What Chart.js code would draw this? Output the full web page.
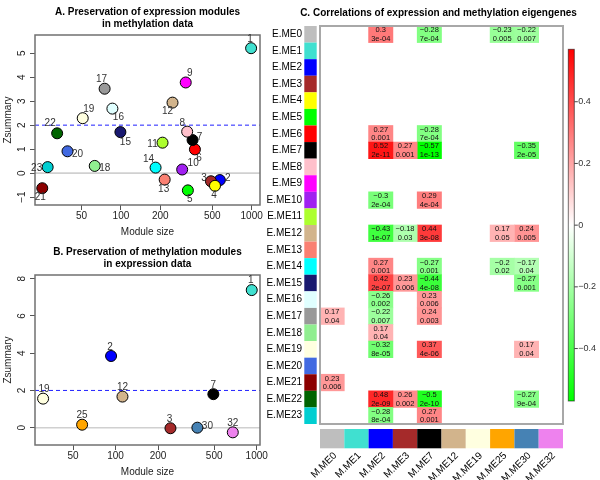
<!DOCTYPE html>
<html>
<head>
<meta charset="utf-8">
<script src="https://cdn.jsdelivr.net/npm/chart.js@4.4.1/dist/chart.umd.min.js"></script>
<style>
  body { margin: 0; background: #fff; }
  #wrap { position: relative; width: 600px; height: 480px; overflow: hidden; }
  canvas { position: absolute; }
</style>
</head>
<body>
<div id="wrap">
  <canvas id="chartA" width="290" height="240" style="left:0;top:0"></canvas>
  <canvas id="chartB" width="290" height="240" style="left:0;top:240px"></canvas>
  <canvas id="chartC" width="350" height="480" style="left:250px;top:0"></canvas>
</div>
<script>
Chart.defaults.font.family = "'Liberation Sans', Arial, Helvetica, sans-serif";
Chart.defaults.color = "#000";
Chart.defaults.animation = false;

const wgcna = {
  grey: "#BEBEBE", turquoise: "#40E0D0", blue: "#0000FF", brown: "#A52A2A",
  yellow: "#FFFF00", green: "#00FF00", red: "#FF0000", black: "#000000",
  pink: "#FFC0CB", magenta: "#FF00FF", purple: "#A020F0", greenyellow: "#ADFF2F",
  tan: "#D2B48C", salmon: "#FA8072", cyan: "#00FFFF", midnightblue: "#191970",
  lightcyan: "#E0FFFF", grey60: "#999999", lightgreen: "#90EE90",
  lightyellow: "#FFFFE0", royalblue: "#4169E1", darkred: "#8B0000",
  darkgreen: "#006400", darkturquoise: "#00CED1", orange: "#FFA500",
  steelblue: "#4682B4", violet: "#EE82EE"
};

// --- Panel A: expression modules in methylation data
const aModules = [1, 2, 3, 4, 5, 6, 7, 8, 9, 10, 11, 12, 13, 14, 15, 16, 17, 18, 19, 20, 21, 22, 23];
const aSizes = [990, 571, 488, 524, 325, 368, 353, 321, 313, 294, 208, 248, 216, 184, 99, 86, 75, 63, 51, 39, 25, 32.5, 27.5];
const aZsummary = [5.21, -0.29, -0.34, -0.53, -0.72, 0.99, 1.38, 1.73, 3.78, 0.15, 1.27, 2.94, -0.27, 0.23, 1.71, 2.69, 3.52, 0.30, 2.29, 0.91, -0.63, 1.66, 0.25];
const aColors = ["turquoise", "blue", "brown", "yellow", "green", "red", "black", "pink", "magenta", "purple",
  "greenyellow", "tan", "salmon", "cyan", "midnightblue", "lightcyan", "grey60", "lightgreen",
  "lightyellow", "royalblue", "darkred", "darkgreen", "darkturquoise"];
const aLabelOffsets = [[-1, -9], [8, -2], [-7, -3], [-1, 9], [2, 9], [4, 9], [7, -3], [-5, -8], [4, -9], [11, -6],
  [-10, 2], [-5, 9], [-1, 10], [-7, -8], [5, 10], [6, 9], [-3, -9], [10, 2], [6, -9], [10, 3],
  [-2, 9], [-7, -10], [-11, 1]];

// --- Panel B: methylation modules in expression data
const bModules = [1, 2, 3, 7, 12, 19, 25, 30, 32];
const bSizes = [922, 93, 245, 493, 112, 30.7, 58, 380, 677];
const bZsummary = [7.39, 3.85, -0.03, 1.80, 1.67, 1.56, 0.16, 0.0, -0.25];
const bColors = ["turquoise", "blue", "brown", "black", "tan", "lightyellow", "orange", "steelblue", "violet"];
const bLabelOffsets = [[-1, -10], [-1, -9], [-1, -9], [0, -9], [0, -9], [1, -9], [0, -9], [10, -1], [0, -9]];

const sizeTicks = [50, 100, 200, 500, 1000];

// --- Panel C: eigengene correlations
const eModules = ["E.ME0", "E.ME1", "E.ME2", "E.ME3", "E.ME4", "E.ME5", "E.ME6", "E.ME7", "E.ME8", "E.ME9",
  "E.ME10", "E.ME11", "E.ME12", "E.ME13", "E.ME14", "E.ME15", "E.ME16", "E.ME17", "E.ME18", "E.ME19",
  "E.ME20", "E.ME21", "E.ME22", "E.ME23"];
const eColors = ["grey"].concat(aColors);
const mModules = ["M.ME0", "M.ME1", "M.ME2", "M.ME3", "M.ME7", "M.ME12", "M.ME19", "M.ME25", "M.ME30", "M.ME32"];
const mColors = ["grey", "turquoise", "blue", "brown", "black", "tan", "lightyellow", "orange", "steelblue", "violet"];
const corrCells = [
  ["E.ME0", "M.ME2", 0.3, "3e-04"], ["E.ME0", "M.ME7", -0.28, "7e-04"],
  ["E.ME0", "M.ME25", -0.23, "0.005"], ["E.ME0", "M.ME30", -0.22, "0.007"],
  ["E.ME6", "M.ME2", 0.27, "0.001"], ["E.ME6", "M.ME7", -0.28, "7e-04"],
  ["E.ME7", "M.ME2", 0.52, "2e-11"], ["E.ME7", "M.ME3", 0.27, "0.001"],
  ["E.ME7", "M.ME7", -0.57, "1e-13"], ["E.ME7", "M.ME30", -0.35, "2e-05"],
  ["E.ME10", "M.ME2", -0.3, "2e-04"], ["E.ME10", "M.ME7", 0.29, "4e-04"],
  ["E.ME12", "M.ME2", -0.43, "1e-07"], ["E.ME12", "M.ME3", -0.18, "0.03"],
  ["E.ME12", "M.ME7", 0.44, "3e-08"], ["E.ME12", "M.ME25", 0.17, "0.05"],
  ["E.ME12", "M.ME30", 0.24, "0.005"],
  ["E.ME14", "M.ME2", 0.27, "0.001"], ["E.ME14", "M.ME7", -0.27, "0.001"],
  ["E.ME14", "M.ME25", -0.2, "0.02"], ["E.ME14", "M.ME30", -0.17, "0.04"],
  ["E.ME15", "M.ME2", 0.42, "2e-07"], ["E.ME15", "M.ME3", 0.23, "0.006"],
  ["E.ME15", "M.ME7", -0.44, "4e-08"], ["E.ME15", "M.ME30", -0.27, "0.001"],
  ["E.ME16", "M.ME2", -0.26, "0.002"], ["E.ME16", "M.ME7", 0.23, "0.006"],
  ["E.ME17", "M.ME0", 0.17, "0.04"], ["E.ME17", "M.ME2", -0.22, "0.007"],
  ["E.ME17", "M.ME7", 0.24, "0.003"],
  ["E.ME18", "M.ME2", 0.17, "0.04"],
  ["E.ME19", "M.ME2", -0.32, "8e-05"], ["E.ME19", "M.ME7", 0.37, "4e-06"],
  ["E.ME19", "M.ME30", 0.17, "0.04"],
  ["E.ME21", "M.ME0", 0.23, "0.006"],
  ["E.ME22", "M.ME2", 0.48, "2e-09"], ["E.ME22", "M.ME3", 0.26, "0.002"],
  ["E.ME22", "M.ME7", -0.5, "2e-10"], ["E.ME22", "M.ME30", -0.27, "9e-04"],
  ["E.ME23", "M.ME2", -0.28, "8e-04"], ["E.ME23", "M.ME7", 0.27, "0.001"]
];
const corrLimit = 0.57;
const colorbarTicks = [0.4, 0.2, 0, -0.2, -0.4];

function fmtNum(v) {
  return String(v).replace("-", "\u2212");
}

function corrColor(r) {
  const t = Math.min(1, Math.abs(r) / corrLimit);
  const c = Math.round(255 * (1 - t));
  return r >= 0 ? `rgb(255,${c},${c})` : `rgb(${c},255,${c})`;
}

// lines at 0 and 2, box, title, rotated y labels and point numbers
const scatterDeco = {
  id: "scatterDeco",
  beforeDatasetsDraw(chart) {
    const { ctx, chartArea: a, scales: { y } } = chart;
    ctx.save();
    ctx.beginPath();
    ctx.rect(a.left, a.top, a.right - a.left, a.bottom - a.top);
    ctx.clip();
    let py = y.getPixelForValue(0);
    ctx.strokeStyle = "#d0d0d0";
    ctx.lineWidth = 1.6;
    ctx.beginPath(); ctx.moveTo(a.left, py); ctx.lineTo(a.right, py); ctx.stroke();
    py = y.getPixelForValue(2);
    ctx.strokeStyle = "#2020ff";
    ctx.lineWidth = 1;
    ctx.setLineDash([4, 3]);
    ctx.beginPath(); ctx.moveTo(a.left, py); ctx.lineTo(a.right, py); ctx.stroke();
    ctx.restore();
  },
  afterDraw(chart, args, opts) {
    const { ctx, chartArea: a, scales: { y } } = chart;
    ctx.save();
    ctx.strokeStyle = "#707070";
    ctx.lineWidth = 1.5;
    ctx.strokeRect(a.left, a.top, a.right - a.left, a.bottom - a.top);

    ctx.textAlign = "center";
    ctx.textBaseline = "middle";
    ctx.fillStyle = "#000";
    ctx.font = "bold 10px 'Liberation Sans', Arial, sans-serif";
    const cx = (a.left + a.right) / 2;
    ctx.fillText(opts.title[0], cx, 12);
    ctx.fillText(opts.title[1], cx, 24);

    ctx.fillStyle = "#222";
    ctx.font = "10px 'Liberation Sans', Arial, sans-serif";
    y.ticks.forEach(t => {
      ctx.save();
      ctx.translate(22, y.getPixelForValue(t.value));
      ctx.rotate(-Math.PI / 2);
      ctx.fillText(fmtNum(t.value), 0, 0);
      ctx.restore();
    });

    ctx.fillStyle = "#333";
    const meta = chart.getDatasetMeta(0);
    meta.data.forEach((pt, i) => {
      const off = opts.offsets[i];
      ctx.fillText(String(opts.labels[i]), pt.x + off[0], pt.y + off[1]);
    });
    ctx.restore();
  }
};

function makeScatter(id, title, modules, sizes, zs, colors, offsets, xMin, xMax, yMin, yMax, yTicks) {
  return new Chart(document.getElementById(id), {
    type: "scatter",
    data: {
      datasets: [{
        data: sizes.map((s, i) => ({ x: s, y: zs[i] })),
        backgroundColor: colors.map(c => wgcna[c]),
        borderColor: "#000",
        borderWidth: 1,
        pointRadius: 5.5
      }]
    },
    options: {
      responsive: false,
      layout: { padding: { left: 0, right: 30, top: 35, bottom: 0 } },
      plugins: {
        legend: { display: false },
        tooltip: { enabled: false },
        title: { display: false },
        scatterDeco: { labels: modules, offsets: offsets, title: title }
      },
      scales: {
        x: {
          type: "logarithmic",
          min: xMin,
          max: xMax,
          afterBuildTicks: s => { s.ticks = sizeTicks.map(v => ({ value: v })); },
          afterFit: s => { s.height = 35; },
          ticks: { autoSkip: false, maxRotation: 0, padding: 0, color: "#222", font: { size: 10 },
            callback: v => String(v) },
          grid: { drawOnChartArea: false, drawTicks: true, tickLength: 5, color: "#555" },
          border: { display: false },
          title: { display: true, text: "Module size", font: { size: 10 }, color: "#222",
            padding: { top: 0, bottom: 2 } }
        },
        y: {
          min: yMin,
          max: yMax,
          afterBuildTicks: s => { s.ticks = yTicks.map(v => ({ value: v })); },
          afterFit: s => { s.width = 35; },
          ticks: { display: false },
          grid: { drawOnChartArea: false, drawTicks: true, tickLength: 5, color: "#555" },
          border: { display: false },
          title: { display: true, text: "Zsummary", font: { size: 10 }, color: "#222",
            padding: { top: 2, bottom: 0 } }
        }
      }
    },
    plugins: [scatterDeco]
  });
}

makeScatter("chartA", ["A. Preservation of expression modules", "in methylation data"],
  aModules, aSizes, aZsummary, aColors, aLabelOffsets, 22, 1158, -1.33, 5.76, [-1, 0, 1, 2, 3, 4, 5]);

makeScatter("chartB", ["B. Preservation of methylation modules", "in expression data"],
  bModules, bSizes, bZsummary, bColors, bLabelOffsets, 26.9, 1055, -0.93, 8.2, [0, 2, 4, 6, 8]);

// heatmap: one floating-bar dataset per methylation module
function findCell(e, m) {
  return corrCells.find(c => c[0] === e && c[1] === m);
}

const heatDeco = {
  id: "heatDeco",
  afterDatasetsDraw(chart) {
    const { ctx, chartArea: a, scales: { x, y } } = chart;
    ctx.save();
    ctx.fillStyle = "#111";
    ctx.font = "7.5px 'Liberation Sans', Arial, sans-serif";
    ctx.textAlign = "center";
    ctx.textBaseline = "middle";
    mModules.forEach((m, j) => {
      const meta = chart.getDatasetMeta(j);
      eModules.forEach((e, i) => {
        const cell = findCell(e, m);
        if (!cell) return;
        const el = meta.data[i];
        const cx = (el.x + el.base) / 2;
        ctx.fillText(fmtNum(cell[2]), cx, el.y - 4);
        ctx.fillText(cell[3], cx, el.y + 4.5);
      });
    });

    ctx.strokeStyle = "#a8a8a8";
    ctx.lineWidth = 2;
    ctx.strokeRect(a.left, a.top, a.right - a.left, a.bottom - a.top);

    // row colour swatches
    const rowH = (y.bottom - y.top) / eModules.length;
    eModules.forEach((e, i) => {
      ctx.fillStyle = wgcna[eColors[i]];
      ctx.fillRect(54.3, y.getPixelForValue(i) - rowH / 2, 12.4, rowH);
    });

    // column colour swatches and rotated labels
    ctx.font = "10px 'Liberation Sans', Arial, sans-serif";
    mModules.forEach((m, j) => {
      const x0 = x.getPixelForValue(j);
      const x1 = x.getPixelForValue(j + 1);
      ctx.fillStyle = wgcna[mColors[j]];
      ctx.fillRect(x0, 429, x1 - x0, 19.3);
      ctx.save();
      ctx.fillStyle = "#000";
      ctx.translate((x0 + x1) / 2 + 3, 454);
      ctx.rotate(-Math.PI / 4);
      ctx.textAlign = "right";
      ctx.fillText(m, 0, 0);
      ctx.restore();
    });

    // colour key
    const cb = { left: 318.3, right: 324.3, top: 49.3, bottom: 401 };
    const grad = ctx.createLinearGradient(0, cb.top, 0, cb.bottom);
    grad.addColorStop(0, "#ff0000");
    grad.addColorStop(0.5, "#ffffff");
    grad.addColorStop(1, "#00ff00");
    ctx.fillStyle = grad;
    ctx.fillRect(cb.left, cb.top, cb.right - cb.left, cb.bottom - cb.top);
    ctx.strokeStyle = "rgba(0,0,0,0.55)";
    ctx.lineWidth = 1;
    ctx.strokeRect(cb.left, cb.top, cb.right - cb.left, cb.bottom - cb.top);
    const mid = (cb.top + cb.bottom) / 2;
    const half = (cb.bottom - cb.top) / 2;
    ctx.font = "9px 'Liberation Sans', Arial, sans-serif";
    ctx.fillStyle = "#333";
    ctx.textAlign = "left";
    ctx.strokeStyle = "#444";
    colorbarTicks.forEach(v => {
      const py = mid - (v / corrLimit) * half;
      ctx.beginPath(); ctx.moveTo(cb.right, py); ctx.lineTo(cb.right + 3.5, py); ctx.stroke();
      ctx.fillText(fmtNum(v), cb.right + 4, py);
    });

    // title
    ctx.fillStyle = "#000";
    ctx.font = "bold 10px 'Liberation Sans', Arial, sans-serif";
    ctx.textAlign = "center";
    ctx.fillText("C. Correlations of expression and methylation eigengenes", 188.5, 13);
    ctx.restore();
  }
};

new Chart(document.getElementById("chartC"), {
  type: "bar",
  data: {
    labels: eModules,
    datasets: mModules.map((m, j) => ({
      label: m,
      data: eModules.map(e => (findCell(e, m) ? [j, j + 1] : null)),
      backgroundColor: eModules.map(e => {
        const c = findCell(e, m);
        return c ? corrColor(c[2]) : "rgba(0,0,0,0)";
      }),
      borderWidth: 0,
      grouped: false,
      barPercentage: 1,
      categoryPercentage: 1
    }))
  },
  options: {
    responsive: false,
    indexAxis: "y",
    layout: { padding: { left: 0, right: 37, top: 26, bottom: 56 } },
    plugins: { legend: { display: false }, tooltip: { enabled: false }, title: { display: false } },
    scales: {
      x: { type: "linear", min: 0, max: mModules.length, display: false },
      y: {
        type: "category",
        afterFit: s => { s.width = 70; },
        ticks: { padding: 18, color: "#000", font: { size: 10 } },
        grid: { display: false, drawTicks: false },
        border: { display: false }
      }
    }
  },
  plugins: [heatDeco]
});
</script>
</body>
</html>
